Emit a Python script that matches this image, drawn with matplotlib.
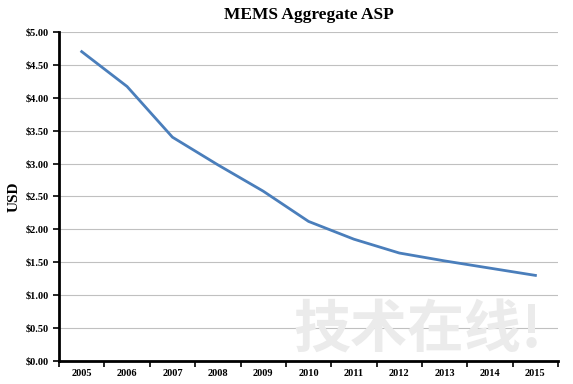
import matplotlib.pyplot as plt
from matplotlib.ticker import FuncFormatter, MultipleLocator

years = ['2005', '2006', '2007', '2008', '2009', '2010', '2011', '2012', '2013', '2014', '2015']
asp = [4.70, 4.17, 3.40, 2.98, 2.58, 2.12, 1.85, 1.64, 1.52, 1.41, 1.30]

plt.rcParams['font.family'] = ['Liberation Serif', 'DejaVu Serif']

fig = plt.figure(figsize=(5.73, 3.84), dpi=100)
ax = fig.add_axes([0.103, 0.060, 0.871, 0.857])

# faint site watermark, bottom right
fig.text(0.73, 0.14, '技术在线!', family=['Noto Sans CJK SC', 'DejaVu Sans'],
         fontsize=41, color='#ebebeb', ha='center', va='center', weight='bold', zorder=0)

x = list(range(len(years)))
ax.plot(x, asp, color='#4a7ebb', linewidth=2, zorder=3)

ax.set_xlim(-0.5, len(years) - 0.5)
ax.set_ylim(0, 5)
ax.yaxis.set_major_locator(MultipleLocator(0.5))
ax.yaxis.set_major_formatter(FuncFormatter(lambda v, p: '$%.2f' % v))
ax.set_xticks(x)
ax.set_xticklabels(years)
ax.set_xticks([i - 0.5 for i in range(len(years) + 1)], minor=True)
ax.tick_params(axis='x', which='major', length=0, pad=6, labelsize=7.5)
ax.tick_params(axis='x', which='minor', length=4, width=1.2, direction='out')
ax.tick_params(axis='y', length=4, width=1.2, labelsize=7.5, pad=3)
for lbl in ax.get_xticklabels() + ax.get_yticklabels():
    lbl.set_fontweight('bold')

ax.grid(axis='y', color='#c0c0c0', linewidth=0.8)
ax.set_axisbelow(True)
for s in ['top', 'right']:
    ax.spines[s].set_visible(False)
ax.spines['left'].set_linewidth(2)
ax.spines['bottom'].set_linewidth(2)
ax.patch.set_alpha(0)

ax.set_ylabel('USD', fontsize=11, fontweight='bold', labelpad=4)
ax.set_title('MEMS Aggregate ASP', fontsize=12.5, fontweight='bold', pad=9)

fig.savefig('out.png', dpi=100)
